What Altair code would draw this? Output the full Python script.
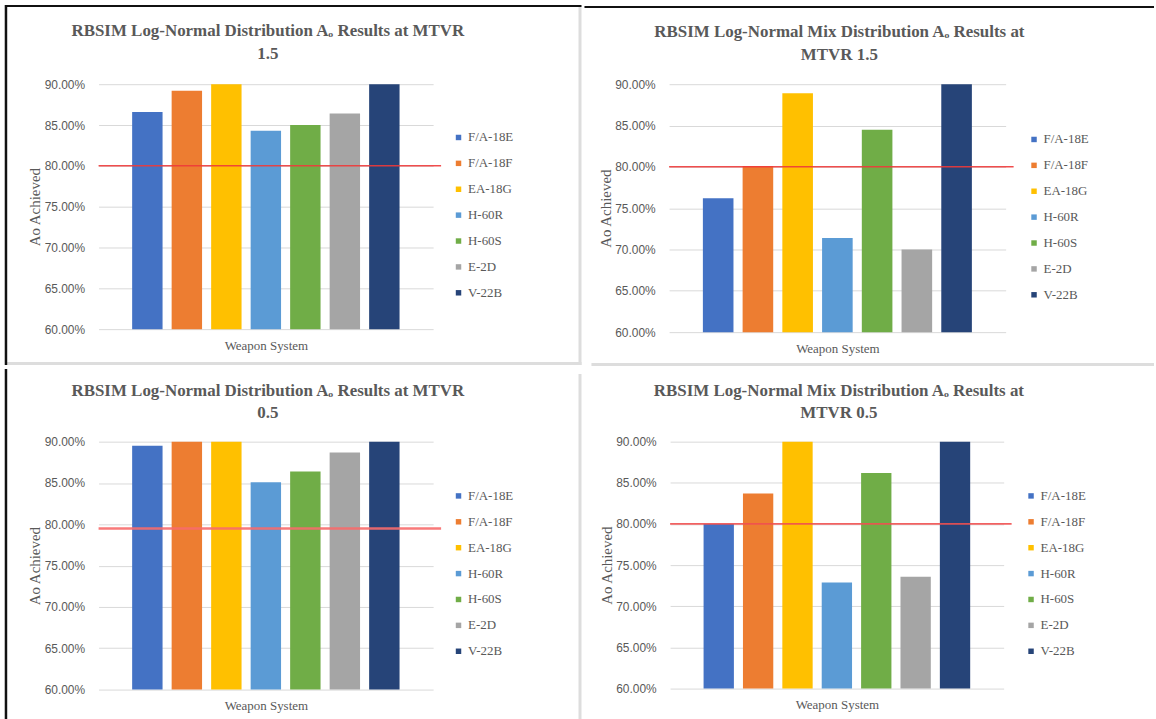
import altair as alt
import pandas as pd

# Weapon systems and their Excel-style series colours
systems = ["F/A-18E", "F/A-18F", "EA-18G", "H-60R", "H-60S", "E-2D", "V-22B"]
colors = ["#4472C4", "#ED7D31", "#FFC000", "#5B9BD5", "#70AD47", "#A5A5A5", "#264478"]

# Operational availability (Ao) achieved per system
ao_lognormal_15 = [0.866, 0.892, 0.900, 0.843, 0.850, 0.864, 0.900]
ao_mix_15 = [0.762, 0.801, 0.889, 0.714, 0.845, 0.700, 0.900]
ao_lognormal_05 = [0.895, 0.900, 0.900, 0.851, 0.864, 0.887, 0.900]
ao_mix_05 = [0.800, 0.837, 0.900, 0.729, 0.862, 0.736, 0.900]

# Ao target line per chart
targets = [0.800, 0.800, 0.795, 0.800]
target_widths = [1.5, 1.5, 2.5, 1.8]
target_colors = ["#EE3A3A", "#EE3A3A", "#F76B6B", "#F05050"]

titles = [
    ["RBSIM Log-Normal Distribution A\u2092 Results at MTVR", "1.5"],
    ["RBSIM Log-Normal Mix Distribution A\u2092 Results at", "MTVR 1.5"],
    ["RBSIM Log-Normal Distribution A\u2092 Results at MTVR", "0.5"],
    ["RBSIM Log-Normal Mix Distribution A\u2092 Results at", "MTVR 0.5"],
]

y_ticks = [0.60, 0.65, 0.70, 0.75, 0.80, 0.85, 0.90]

GRID = "#D9D9D9"
TEXT = "#595959"
SERIF = "Liberation Serif, Times New Roman, serif"

# Page layout of each panel: cell box (x0, y0, x1, y1) and plot box (x, y, w, h)
layout = [
    dict(cell=(0, 0, 584, 365), plot=(99, 83, 336, 246), title_y=(30, 53),
         legend=(457, 137), sep_v=True, sep_h=True, black_top=True, black_left=True),
    dict(cell=(584, 0, 1156, 365), plot=(669, 82, 338, 249), title_y=(30, 53),
         legend=(1032, 138), sep_v=False, sep_h=True, black_top=True, black_left=False),
    dict(cell=(0, 365, 584, 719), plot=(99, 438, 336, 249), title_y=(387, 409),
         legend=(457, 493), sep_v=True, sep_h=False, black_top=False, black_left=True),
    dict(cell=(584, 365, 1156, 719), plot=(673, 438, 335, 248), title_y=(387, 409),
         legend=(1032, 493), sep_v=False, sep_h=False, black_top=False, black_left=False),
]


def one_row():
    return pd.DataFrame({"k": [0]})


def panel(values, title_lines, target, t_width, t_color, geo):
    cx0, cy0, cx1, cy1 = geo["cell"]
    px, py, w, h = geo["plot"]

    def rx(v):
        return v - px

    def ry(v):
        return v - py

    df = pd.DataFrame({"system": systems, "ao": values})

    # invisible box that fixes the cell extent in the grid
    frame = alt.Chart(one_row()).mark_rect(opacity=0).encode(
        x=alt.value(rx(cx0)), x2=alt.value(rx(cx1)),
        y=alt.value(ry(cy0)), y2=alt.value(ry(cy1)),
    )

    bars = alt.Chart(df).mark_bar().encode(
        x=alt.X(
            "system:N", sort=systems,
            scale=alt.Scale(paddingInner=0.23, paddingOuter=0.85),
            axis=alt.Axis(labels=False, ticks=False, domain=False, grid=False,
                          title="Weapon System", titleFont=SERIF, titleFontSize=13,
                          titleFontWeight="normal", titleColor=TEXT,
                          titleY=10, titleBaseline="top"),
        ),
        y=alt.Y(
            "ao:Q",
            scale=alt.Scale(domain=[0.60, 0.90], zero=False, nice=False),
            axis=alt.Axis(values=y_ticks, format=".2%", domain=False, ticks=False,
                          tickSize=0, labelPadding=14, labelFont="Liberation Sans",
                          labelFontSize=12, labelColor=TEXT, gridColor=GRID,
                          gridWidth=1, title="Ao Achieved", titleFont=SERIF,
                          titleFontSize=15, titleFontWeight="normal",
                          titleColor=TEXT, titleX=-56, titleY=h / 2,
                          titleAngle=270, titleBaseline="bottom", titleAlign="center"),
        ),
        y2=alt.datum(0.60),
        color=alt.Color(
            "system:N", sort=systems,
            scale=alt.Scale(domain=systems, range=colors),
            legend=alt.Legend(
                title=None, orient="none",
                legendX=rx(geo["legend"][0]) - 3, legendY=ry(geo["legend"][1]) - 7,
                symbolType="square", symbolSize=30, symbolStrokeWidth=0,
                labelFont=SERIF, labelFontSize=13, labelColor=TEXT,
                labelOffset=3, rowPadding=12, padding=0,
            ),
        ),
    )

    rule = alt.Chart(pd.DataFrame({"target": [target]})).mark_rule(
        color=t_color, strokeWidth=t_width, opacity=0.9
    ).encode(y="target:Q", x=alt.value(0), x2=alt.value(w + 8))

    title_parts = []
    for line, ty in zip(title_lines, geo["title_y"]):
        title_parts.append(
            alt.Chart(pd.DataFrame({"t": [line]})).mark_text(
                font=SERIF, fontSize=17, fontWeight="bold", color=TEXT,
                align="center", baseline="middle",
            ).encode(text="t:N", x=alt.value(w / 2 + 2), y=alt.value(ry(ty)))
        )

    lines = []
    if geo["sep_v"]:
        lines.append(alt.Chart(one_row()).mark_rule(color="#DDDDDD", strokeWidth=3).encode(
            x=alt.value(rx(cx1 - 1.5)), y=alt.value(ry(cy0 + 5)), y2=alt.value(ry(cy1))))
    if geo["sep_h"]:
        lines.append(alt.Chart(one_row()).mark_rule(color="#DDDDDD", strokeWidth=3).encode(
            y=alt.value(ry(cy1 - 1.5)), x=alt.value(rx(cx0 + 7)), x2=alt.value(rx(cx1))))
    if geo["black_top"]:
        lines.append(alt.Chart(one_row()).mark_rule(color="#111111", strokeWidth=2).encode(
            y=alt.value(ry(4.5)), x=alt.value(rx(max(cx0, 5))), x2=alt.value(rx(cx1))))
    if geo["black_left"]:
        lines.append(alt.Chart(one_row()).mark_rule(color="#111111", strokeWidth=2.5).encode(
            x=alt.value(rx(6)), y=alt.value(ry(max(cy0, 3.5))), y2=alt.value(ry(cy1))))

    return alt.layer(frame, bars, rule, *title_parts, *lines).properties(width=w, height=h)


series = [ao_lognormal_15, ao_mix_15, ao_lognormal_05, ao_mix_05]
panels = [
    panel(v, t, tg, tw, tc, g)
    for v, t, tg, tw, tc, g in zip(series, titles, targets, target_widths, target_colors, layout)
]


def indep(c):
    return c.resolve_scale(color="independent", x="independent", y="independent").resolve_legend(
        color="independent")


top = indep(alt.hconcat(panels[0], panels[1], spacing=0))
bottom = indep(alt.hconcat(panels[2], panels[3], spacing=0))
chart = indep(alt.vconcat(top, bottom, spacing=0)).properties(
    padding=0, background="white"
).configure_view(strokeWidth=0)

chart.save("out.html", embed_options={"renderer": "svg", "actions": False})
